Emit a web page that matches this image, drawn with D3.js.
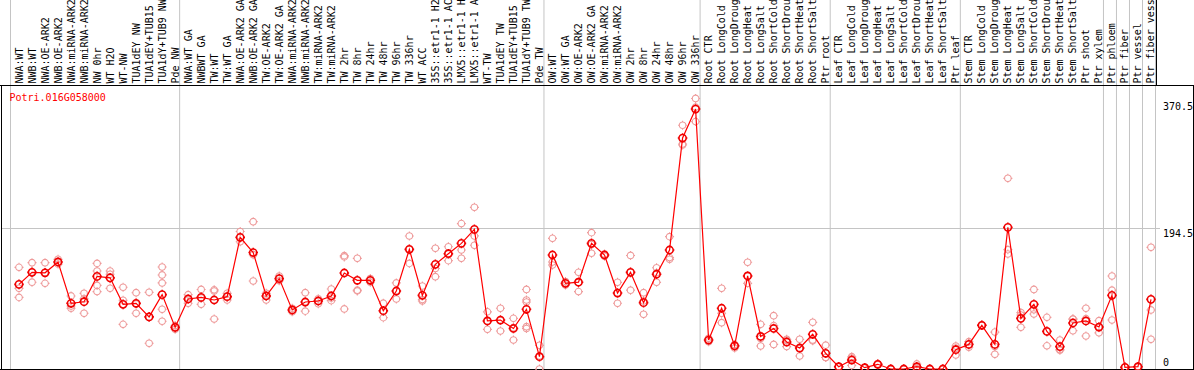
<!DOCTYPE html>
<html>
<head>
<meta charset="utf-8">
<script src="https://cdn.jsdelivr.net/npm/d3@7"></script>
<style>
  body { margin: 0; background: #fff; }
  svg { display: block; }
  text { font-family: "DejaVu Sans Mono", monospace; font-size: 10px; }
</style>
</head>
<body>
<div id="dataviz"></div>
<script>
// sample names, left to right
var labels = [
    "NWA:WT", "NWB:WT", "NWA:OE-ARK2", "NWB:OE-ARK2", "NWA:miRNA-ARK2", "NWB:miRNA-ARK2",
    "NW 0hr", "WT H2O", "WT-NW", "TUA1dEY NW", "TUA1dEY+TUB15 NW", "TUA1dY+TUB9 NW", "Pde NW",
    "NWA:WT GA", "NWBWT GA", "TW:WT", "TW:WT GA", "NWA:OE-ARK2 GA", "NWB:OE-ARK2 GA",
    "TW:OE-ARK2", "TW:OE-ARK2 GA", "NWA:miRNA-ARK2", "NWB:miRNA-ARK2", "TW:miRNA-ARK2",
    "TW:miRNA-ARK2", "TW 2hr", "TW 8hr", "TW 24hr", "TW 48hr", "TW 96hr", "TW 336hr", "WT ACC",
    "35S::etr1-1 H2O", "35S::etr1-1 ACC", "LMX5::etr1-1 H2O", "LMX5::etr1-1 ACC", "WT-TW",
    "TUA1dEY TW", "TUA1dEY+TUB15 TW", "TUA1dY+TUB9 TW", "Pde TW",
    "OW:WT", "OW:WT GA", "OW:OE-ARK2", "OW:OE-ARK2 GA", "OW:miRNA-ARK2", "OW:miRNA-ARK2",
    "OW 2hr", "OW 8hr", "OW 24hr", "OW 48hr", "OW 96hr", "OW 336hr",
    "Root CTR", "Root LongCold", "Root LongDrought", "Root LongHeat", "Root LongSalt",
    "Root ShortCold", "Root ShortDrought", "Root ShortHeat", "Root ShortSalt", "Ptr root",
    "Leaf CTR", "Leaf LongCold", "Leaf LongDrought", "Leaf LongHeat", "Leaf LongSalt",
    "Leaf ShortCold", "Leaf ShortDrought", "Leaf ShortHeat", "Leaf ShortSalt", "Ptr leaf",
    "Stem CTR", "Stem LongCold", "Stem LongDrought", "Stem LongHeat", "Stem LongSalt",
    "Stem ShortCold", "Stem ShortDrought", "Stem ShortHeat", "Stem ShortSalt", "Ptr shoot",
    "Ptr xylem", "Ptr phloem", "Ptr fiber", "Ptr vessel", "Ptr fiber vessel"
];

// mean expression per sample
var means = [
    117, 133.6, 133, 148, 90.8, 93, 128, 126, 89.4, 90.8, 72, 102.8, 57.6,
    96.8, 99, 95.4, 100, 182, 161, 101, 125, 81.6, 92.6, 94, 101, 132.7, 122.6, 122.6,
    80.6, 107.8, 165.4, 101.8, 144.7, 159.4, 173.7, 193, 66.4, 67.7, 56, 82.5, 17,
    157.6, 118.4, 120, 173.7, 157.6, 105, 133.6, 91.7, 131, 164.5, 319.3, 359.4,
    40, 84, 32, 128.6, 45, 56, 37.3, 29, 48, 21.7,
    3.2, 12.4, 1.8, 6.5, 0, 0, 3.2, 0, 0, 26.7,
    34, 60.4, 34, 195.8, 70, 89.4, 52, 31, 63.6, 66.4,
    58, 101.8, 2.3, 3.2, 96.3
];

// replicate values per sample
var reps = [
    [140.5, 111.5, 99], [147, 134, 120], [147, 133, 118.4], [151.6, 148, 145],
    [101, 87, 84], [104.6, 97, 77], [146, 135.5, 115.6, 107], [135.5, 131, 111.5],
    [113, 95, 61.7], [105.5, 90, 77], [106, 72, 35.5], [141, 130, 119, 82.5, 66],
    [60, 57.6, 55],
    [102.8, 96.8, 90.8], [110, 98, 89.4], [109.4, 107.8, 69], [104.6, 100, 95.4],
    [190, 182, 176], [203.7, 158, 121.6], [104.6, 101, 95.4], [128.6, 125, 122],
    [84, 81.6, 79], [105.5, 92.6, 80], [97, 94, 90.3], [110.6, 98, 94.5],
    [156.7, 155, 83], [153, 109, 108], [125, 122.6, 120], [91, 80, 71],
    [119, 107.8, 96.8], [183.9, 165.4, 146], [114.7, 96, 94], [166.8, 139, 127.6],
    [169, 159.4, 149.8], [201, 164.5, 153], [223.5, 184, 171], [79, 66.4, 54.8],
    [84, 67, 52.5], [70, 57, 40], [110, 95.4, 92.6, 58.5, 56], [32.7, 18, 0],
    [180.6, 148, 143.8], [121, 118.4, 116], [133.6, 120, 107], [188.5, 172, 160],
    [159, 157.6, 156], [119.8, 105, 90.8], [157, 134, 109], [105.5, 94, 75.6],
    [140, 133, 119.8], [183, 154, 151.6], [337, 311, 309.7], [374, 362, 342],
    [42.4, 40, 37.6], [111.5, 77, 64], [34, 32, 29], [147.5, 128.6, 118.4],
    [61.7, 42, 31.8], [73.7, 60, 34], [41, 40, 31], [41, 28, 18], [64.5, 40, 39],
    [33, 16, 16],
    [3.2, 3.2, 3.2], [17, 15, 5], [1.8, 1.8, 1.8], [7, 6.5, 6], [0, 0, 0], [0, 0, 0],
    [7, 2, 0.5], [0, 0, 0], [0, 0, 0], [31.8, 29, 19.4],
    [37.8, 34, 30], [61, 60.4, 60], [51, 31, 20.3], [263.6, 165, 159], [74.6, 78, 57.6],
    [110, 82, 76], [71.4, 52, 32], [40, 27, 26], [69, 69, 53], [84, 69.6, 45.6],
    [66.8, 57, 50], [128.6, 109, 67.7], [2.3, 2.3, 2.3], [3.2, 3.2, 3.2], [168.2, 81.6, 41]
];

// first sample index of each tissue group (vertical separators)
var groupStarts = [0, 13, 41, 53, 63, 73, 84, 85, 86, 87, 88];
var yTicks = [370.5, 194.5, 0];
var geneName = "Potri.016G058000";

function drawData() {
    var W = 1194, H = 370;
    var plotTop = 85, plotBottom = 369;

    var svg = d3.select("#dataviz")
        .append("svg")
        .attr("width", W)
        .attr("height", H);

    var x = d3.scaleBand()
        .domain(d3.range(labels.length))
        .range([10.5, 1155.5]);
    var cx = function (i) { return x(i) + 8.5; };

    var y = d3.scaleLinear()
        .domain([0, 370.5])
        .range([plotBottom, 101]);

    // group separators, full height
    svg.selectAll("line.vgrid")
        .data(groupStarts)
        .enter()
        .append("line")
        .attr("x1", function (d) { return d < labels.length ? x(d) : x.range()[1]; })
        .attr("x2", function (d) { return d < labels.length ? x(d) : x.range()[1]; })
        .attr("y1", 0)
        .attr("y2", H)
        .attr("stroke", "#c4c4c4")
        .attr("stroke-width", 1);

    // horizontal grid at inner ticks
    svg.selectAll("line.hgrid")
        .data(yTicks.filter(function (d) { return d > 0 && d < 370.5; }))
        .enter()
        .append("line")
        .attr("x1", 2)
        .attr("x2", 1160)
        .attr("y1", function (d) { return Math.round(y(d)) + 0.5; })
        .attr("y2", function (d) { return Math.round(y(d)) + 0.5; })
        .attr("stroke", "#c4c4c4")
        .attr("stroke-width", 1);

    // frame
    svg.append("line").attr("x1", 0).attr("x2", W).attr("y1", plotTop + 0.5).attr("y2", plotTop + 0.5)
        .attr("stroke", "#000");
    svg.append("line").attr("x1", 1.5).attr("x2", 1.5).attr("y1", plotTop).attr("y2", H)
        .attr("stroke", "#000");
    svg.append("line").attr("x1", W - 0.5).attr("x2", W - 0.5).attr("y1", plotTop).attr("y2", H)
        .attr("stroke", "#000");
    svg.append("line").attr("x1", 0).attr("x2", W).attr("y1", plotBottom + 0.5).attr("y2", plotBottom + 0.5)
        .attr("stroke", "#000");
    svg.append("line").attr("x1", 1156.5).attr("x2", 1156.5).attr("y1", 0).attr("y2", plotTop)
        .attr("stroke", "#000");

    // rotated sample labels, only what fits in the header band is shown
    svg.selectAll("text.lab")
        .data(labels)
        .enter()
        .append("text")
        .attr("transform", function (d, i) { return "translate(" + cx(i) + "," + (plotTop - 1.5) + ")rotate(-90)"; })
        .attr("dy", "0.35em")
        .attr("text-anchor", "start")
        .attr("fill", "#000")
        .text(function (d) { return d.slice(0, 14).trim(); });

    // gene title
    svg.append("text")
        .attr("x", 9.5)
        .attr("y", 100.5)
        .attr("fill", "#ff0000")
        .text(geneName);

    // y tick labels on the right
    svg.selectAll("text.ytick")
        .data(yTicks)
        .enter()
        .append("text")
        .attr("x", 1163)
        .attr("y", function (d) { return d === 0 ? y(d) - 3 : y(d) + 8.5; })
        .attr("fill", "#000")
        .text(function (d) { return d; });

    // circle with four little spokes
    function marker(r) {
        var p = d3.path();
        p.moveTo(r, 0);
        p.arc(0, 0, r, 0, 2 * Math.PI);
        p.moveTo(0, -r); p.lineTo(0, -r - 1.2);
        p.moveTo(0, r); p.lineTo(0, r + 1.2);
        p.moveTo(-r, 0); p.lineTo(-r - 1.2, 0);
        p.moveTo(r, 0); p.lineTo(r + 1.2, 0);
        return p.toString();
    }

    var repPoints = [];
    reps.forEach(function (vals, i) {
        vals.forEach(function (v) { repPoints.push({ i: i, v: v }); });
    });

    svg.selectAll("path.rep")
        .data(repPoints)
        .enter()
        .append("path")
        .attr("d", marker(3.3))
        .attr("transform", function (d) { return "translate(" + cx(d.i) + "," + y(d.v) + ")"; })
        .attr("fill", "none")
        .attr("stroke", "#ee9a9a")
        .attr("stroke-width", 1.1);

    var line = d3.line()
        .x(function (d, i) { return cx(i); })
        .y(function (d) { return y(d); });

    svg.append("path")
        .datum(means)
        .attr("d", line)
        .attr("fill", "none")
        .attr("stroke", "#ff0000")
        .attr("stroke-width", 1.2);

    svg.selectAll("path.mean")
        .data(means)
        .enter()
        .append("path")
        .attr("d", marker(3.6))
        .attr("transform", function (d, i) { return "translate(" + cx(i) + "," + y(d) + ")"; })
        .attr("fill", "none")
        .attr("stroke", "#f00000")
        .attr("stroke-width", 1.6);
}

drawData();
</script>
</body>
</html>
